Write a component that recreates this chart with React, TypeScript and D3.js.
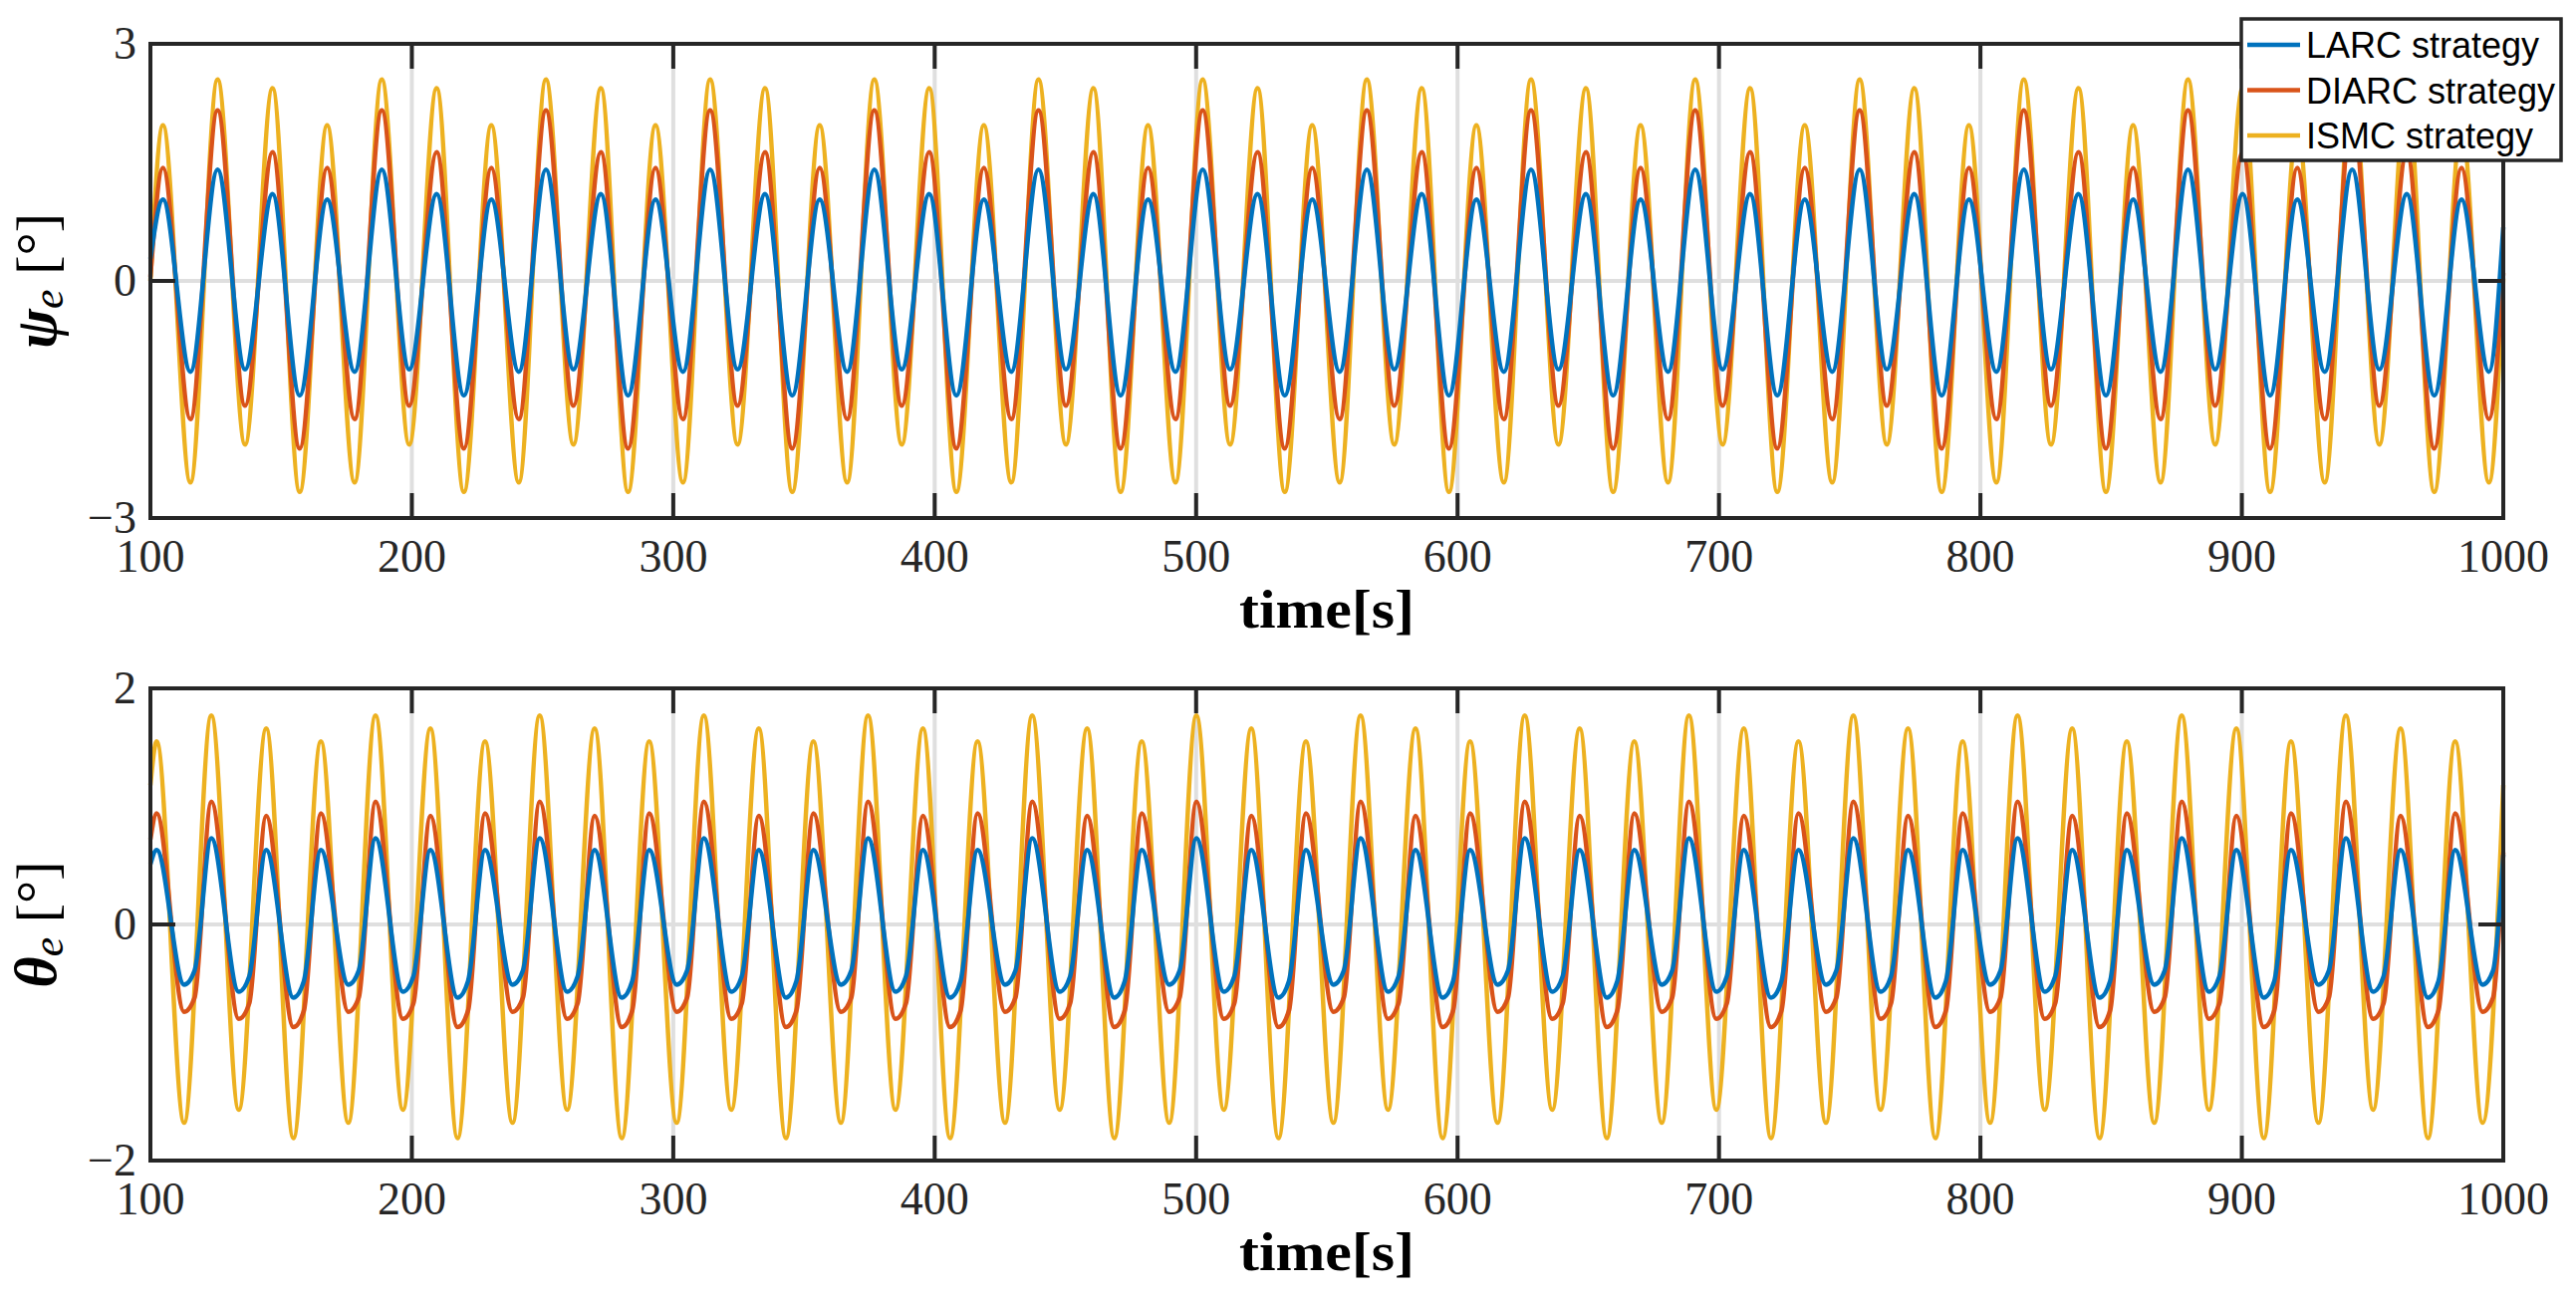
import React from 'react';
import * as d3 from 'd3';

// chart values
const seriesNames = ['LARC strategy', 'DIARC strategy', 'ISMC strategy'];
const seriesColors = ['#0072BD', '#D95319', '#EDB120'];
const xTicks = [100, 200, 300, 400, 500, 600, 700, 800, 900, 1000];
const psiTicks = [-3, 0, 3];
const thetaTicks = [-2, 0, 2];

// times of the peaks / troughs of the psi_e traces [s]
const psiTimes = [
  104.8, 115.3, 125.7, 136.2, 146.7, 157.1,
  167.6, 178.1, 188.5, 199.0, 209.5, 219.9,
  230.4, 240.9, 251.3, 261.8, 272.3, 282.7,
  293.2, 303.7, 314.1, 324.6, 335.1, 345.5,
  356.0, 366.5, 376.9, 387.4, 397.9, 408.3,
  418.8, 429.3, 439.7, 450.2, 460.7, 471.1,
  481.6, 492.1, 502.5, 513.0, 523.5, 533.9,
  544.4, 554.9, 565.3, 575.8, 586.3, 596.7,
  607.2, 617.7, 628.1, 638.6, 649.1, 659.5,
  670.0, 680.5, 690.9, 701.4, 711.9, 722.3,
  732.8, 743.3, 753.8, 764.2, 774.7, 785.2,
  795.6, 806.1, 816.6, 827.0, 837.5, 848.0,
  858.4, 868.9, 879.4, 889.8, 900.3, 910.8,
  921.2, 931.7, 942.2, 952.6, 963.1, 973.6,
  984.0, 994.5,
];

const psiLarc = [
  1.03, -1.15, 1.41, -1.12, 1.10, -1.45,
  1.03, -1.15, 1.41, -1.12, 1.10, -1.45,
  1.03, -1.15, 1.41, -1.12, 1.10, -1.45,
  1.03, -1.15, 1.41, -1.12, 1.10, -1.45,
  1.03, -1.15, 1.41, -1.12, 1.10, -1.45,
  1.03, -1.15, 1.41, -1.12, 1.10, -1.45,
  1.03, -1.15, 1.41, -1.12, 1.10, -1.45,
  1.03, -1.15, 1.41, -1.12, 1.10, -1.45,
  1.03, -1.15, 1.41, -1.12, 1.10, -1.45,
  1.03, -1.15, 1.41, -1.12, 1.10, -1.45,
  1.03, -1.15, 1.41, -1.12, 1.10, -1.45,
  1.03, -1.15, 1.41, -1.12, 1.10, -1.45,
  1.03, -1.15, 1.41, -1.12, 1.10, -1.45,
  1.03, -1.15, 1.41, -1.12, 1.10, -1.45,
  1.03, -1.15,
];

const psiDiarc = [
  1.43, -1.75, 2.16, -1.58, 1.63, -2.12,
  1.43, -1.75, 2.16, -1.58, 1.63, -2.12,
  1.43, -1.75, 2.16, -1.58, 1.63, -2.12,
  1.43, -1.75, 2.16, -1.58, 1.63, -2.12,
  1.43, -1.75, 2.16, -1.58, 1.63, -2.12,
  1.43, -1.75, 2.16, -1.58, 1.63, -2.12,
  1.43, -1.75, 2.16, -1.58, 1.63, -2.12,
  1.43, -1.75, 2.16, -1.58, 1.63, -2.12,
  1.43, -1.75, 2.16, -1.58, 1.63, -2.12,
  1.43, -1.75, 2.16, -1.58, 1.63, -2.12,
  1.43, -1.75, 2.16, -1.58, 1.63, -2.12,
  1.43, -1.75, 2.16, -1.58, 1.63, -2.12,
  1.43, -1.75, 2.16, -1.58, 1.63, -2.12,
  1.43, -1.75, 2.16, -1.58, 1.63, -2.12,
  1.43, -1.75,
];

const psiIsmc = [
  1.97, -2.55, 2.55, -2.07, 2.44, -2.67,
  1.97, -2.55, 2.55, -2.07, 2.44, -2.67,
  1.97, -2.55, 2.55, -2.07, 2.44, -2.67,
  1.97, -2.55, 2.55, -2.07, 2.44, -2.67,
  1.97, -2.55, 2.55, -2.07, 2.44, -2.67,
  1.97, -2.55, 2.55, -2.07, 2.44, -2.67,
  1.97, -2.55, 2.55, -2.07, 2.44, -2.67,
  1.97, -2.55, 2.55, -2.07, 2.44, -2.67,
  1.97, -2.55, 2.55, -2.07, 2.44, -2.67,
  1.97, -2.55, 2.55, -2.07, 2.44, -2.67,
  1.97, -2.55, 2.55, -2.07, 2.44, -2.67,
  1.97, -2.55, 2.55, -2.07, 2.44, -2.67,
  1.97, -2.55, 2.55, -2.07, 2.44, -2.67,
  1.97, -2.55, 2.55, -2.07, 2.44, -2.67,
  1.97, -2.55,
];

// value at t = 100 and t = 1000 (LARC, DIARC, ISMC)
const psiStart = [0.28, 0.05, 0.0];
const psiEnd = [0.68, 0.1, 0.03];

// times of the peaks / troughs of the theta_e traces [s]
const thetaTimes = [
  102.4, 112.9, 123.3, 133.8, 144.3, 154.7,
  165.2, 175.7, 186.1, 196.6, 207.1, 217.5,
  228.0, 238.5, 248.9, 259.4, 269.9, 280.3,
  290.8, 301.3, 311.7, 322.2, 332.7, 343.1,
  353.6, 364.1, 374.5, 385.0, 395.5, 405.9,
  416.4, 426.9, 437.3, 447.8, 458.3, 468.7,
  479.2, 489.7, 500.1, 510.6, 521.1, 531.5,
  542.0, 552.5, 562.9, 573.4, 583.9, 594.3,
  604.8, 615.3, 625.7, 636.2, 646.7, 657.1,
  667.6, 678.1, 688.5, 699.0, 709.5, 719.9,
  730.4, 740.9, 751.4, 761.8, 772.3, 782.8,
  793.2, 803.7, 814.2, 824.6, 835.1, 845.6,
  856.0, 866.5, 877.0, 887.4, 897.9, 908.4,
  918.8, 929.3, 939.8, 950.2, 960.7, 971.2,
  981.6, 992.1,
];

const thetaLarc = [
  0.63, -0.51, 0.73, -0.57, 0.63, -0.62,
  0.63, -0.51, 0.73, -0.57, 0.63, -0.62,
  0.63, -0.51, 0.73, -0.57, 0.63, -0.62,
  0.63, -0.51, 0.73, -0.57, 0.63, -0.62,
  0.63, -0.51, 0.73, -0.57, 0.63, -0.62,
  0.63, -0.51, 0.73, -0.57, 0.63, -0.62,
  0.63, -0.51, 0.73, -0.57, 0.63, -0.62,
  0.63, -0.51, 0.73, -0.57, 0.63, -0.62,
  0.63, -0.51, 0.73, -0.57, 0.63, -0.62,
  0.63, -0.51, 0.73, -0.57, 0.63, -0.62,
  0.63, -0.51, 0.73, -0.57, 0.63, -0.62,
  0.63, -0.51, 0.73, -0.57, 0.63, -0.62,
  0.63, -0.51, 0.73, -0.57, 0.63, -0.62,
  0.63, -0.51, 0.73, -0.57, 0.63, -0.62,
  0.63, -0.51,
];

const thetaDiarc = [
  0.94, -0.74, 1.04, -0.80, 0.92, -0.87,
  0.94, -0.74, 1.04, -0.80, 0.92, -0.87,
  0.94, -0.74, 1.04, -0.80, 0.92, -0.87,
  0.94, -0.74, 1.04, -0.80, 0.92, -0.87,
  0.94, -0.74, 1.04, -0.80, 0.92, -0.87,
  0.94, -0.74, 1.04, -0.80, 0.92, -0.87,
  0.94, -0.74, 1.04, -0.80, 0.92, -0.87,
  0.94, -0.74, 1.04, -0.80, 0.92, -0.87,
  0.94, -0.74, 1.04, -0.80, 0.92, -0.87,
  0.94, -0.74, 1.04, -0.80, 0.92, -0.87,
  0.94, -0.74, 1.04, -0.80, 0.92, -0.87,
  0.94, -0.74, 1.04, -0.80, 0.92, -0.87,
  0.94, -0.74, 1.04, -0.80, 0.92, -0.87,
  0.94, -0.74, 1.04, -0.80, 0.92, -0.87,
  0.94, -0.74,
];

const thetaIsmc = [
  1.55, -1.68, 1.77, -1.57, 1.66, -1.81,
  1.55, -1.68, 1.77, -1.57, 1.66, -1.81,
  1.55, -1.68, 1.77, -1.57, 1.66, -1.81,
  1.55, -1.68, 1.77, -1.57, 1.66, -1.81,
  1.55, -1.68, 1.77, -1.57, 1.66, -1.81,
  1.55, -1.68, 1.77, -1.57, 1.66, -1.81,
  1.55, -1.68, 1.77, -1.57, 1.66, -1.81,
  1.55, -1.68, 1.77, -1.57, 1.66, -1.81,
  1.55, -1.68, 1.77, -1.57, 1.66, -1.81,
  1.55, -1.68, 1.77, -1.57, 1.66, -1.81,
  1.55, -1.68, 1.77, -1.57, 1.66, -1.81,
  1.55, -1.68, 1.77, -1.57, 1.66, -1.81,
  1.55, -1.68, 1.77, -1.57, 1.66, -1.81,
  1.55, -1.68, 1.77, -1.57, 1.66, -1.81,
  1.55, -1.68,
];

// LARC / DIARC theta traces have a shoulder a few seconds after every trough
const thetaShoulderLag = 4.0;
const thetaShoulderLarc = [
  -0.39, -0.44, -0.48, -0.39, -0.44, -0.48, -0.39, -0.44, -0.48,
  -0.39, -0.44, -0.48, -0.39, -0.44, -0.48, -0.39, -0.44, -0.48,
  -0.39, -0.44, -0.48, -0.39, -0.44, -0.48, -0.39, -0.44, -0.48,
  -0.39, -0.44, -0.48, -0.39, -0.44, -0.48, -0.39, -0.44, -0.48,
  -0.39, -0.44, -0.48, -0.39, -0.44, -0.48, -0.39,
];
const thetaShoulderDiarc = [
  -0.62, -0.67, -0.73, -0.62, -0.67, -0.73, -0.62, -0.67, -0.73,
  -0.62, -0.67, -0.73, -0.62, -0.67, -0.73, -0.62, -0.67, -0.73,
  -0.62, -0.67, -0.73, -0.62, -0.67, -0.73, -0.62, -0.67, -0.73,
  -0.62, -0.67, -0.73, -0.62, -0.67, -0.73, -0.62, -0.67, -0.73,
  -0.62, -0.67, -0.73, -0.62, -0.67, -0.73, -0.62,
];

const thetaStart = [0.51, 0.72, 1.18];
const thetaEnd = [0.59, 0.61, 1.18];

type Pt = [number, number];

const buildPoints = (
  times: number[],
  values: number[],
  start: number,
  end: number,
  shoulders?: number[],
  lag?: number
): Pt[] => {
  const pts: Pt[] = [[100, start]];
  times.forEach((t, i) => pts.push([t, values[i]]));
  if (shoulders && lag) {
    let k = 0;
    times.forEach((t, i) => {
      if (values[i] < 0 && k < shoulders.length) {
        pts.push([t + lag, shoulders[k]]);
        k++;
      }
    });
  }
  pts.push([1000, end]);
  return pts.sort((a, b) => a[0] - b[0]);
};

const AXIS = '#262626';
const GRID = '#dfdfdf';
const LEFT = 151;
const RIGHT = 2513;
const TICK = 25;

interface PanelProps {
  top: number;
  bottom: number;
  yDomain: [number, number];
  yTicks: number[];
  series: Pt[][];
  symbol: string;
  legend?: boolean;
}

const fmt = (v: number) => (v < 0 ? '\u2212' + Math.abs(v) : String(v));

const Panel: React.FC<PanelProps> = ({ top, bottom, yDomain, yTicks, series, symbol, legend }) => {
  const x = d3.scaleLinear().domain([100, 1000]).range([LEFT, RIGHT]);
  const y = d3.scaleLinear().domain(yDomain).range([bottom, top]);
  const line = d3
    .line<Pt>()
    .x((d) => x(d[0]))
    .y((d) => y(d[1]))
    .curve(d3.curveMonotoneX);
  const cy = (top + bottom) / 2;
  const order = [2, 1, 0];

  return (
    <g>
      {/* grid */}
      {xTicks.slice(1, -1).map((t) => (
        <line key={'gx' + t} x1={x(t)} x2={x(t)} y1={top} y2={bottom} stroke={GRID} strokeWidth={4} />
      ))}
      {yTicks.slice(1, -1).map((t) => (
        <line key={'gy' + t} x1={LEFT} x2={RIGHT} y1={y(t)} y2={y(t)} stroke={GRID} strokeWidth={4} />
      ))}

      {/* traces */}
      {order.map((i) => (
        <path
          key={'s' + i}
          d={line(series[i]) || ''}
          fill="none"
          stroke={seriesColors[i]}
          strokeWidth={4.5}
          strokeLinejoin="round"
        />
      ))}

      {/* ticks */}
      {xTicks.map((t) => (
        <g key={'tx' + t}>
          <line x1={x(t)} x2={x(t)} y1={bottom} y2={bottom - TICK} stroke={AXIS} strokeWidth={4} />
          <line x1={x(t)} x2={x(t)} y1={top} y2={top + TICK} stroke={AXIS} strokeWidth={4} />
          <text
            x={x(t)}
            y={bottom + 54}
            textAnchor="middle"
            fontFamily="'Liberation Serif', serif"
            fontSize={46}
            fill={AXIS}
          >
            {t}
          </text>
        </g>
      ))}
      {yTicks.map((t) => (
        <g key={'ty' + t}>
          <line x1={LEFT} x2={LEFT + TICK} y1={y(t)} y2={y(t)} stroke={AXIS} strokeWidth={4} />
          <line x1={RIGHT} x2={RIGHT - TICK} y1={y(t)} y2={y(t)} stroke={AXIS} strokeWidth={4} />
          <text
            x={LEFT - 14}
            y={y(t) + 15}
            textAnchor="end"
            fontFamily="'Liberation Serif', serif"
            fontSize={46}
            fill={AXIS}
          >
            {fmt(t)}
          </text>
        </g>
      ))}

      {/* box */}
      <rect x={LEFT} y={top} width={RIGHT - LEFT} height={bottom - top} fill="none" stroke={AXIS} strokeWidth={4} />

      {/* axis labels */}
      <text
        x={(LEFT + RIGHT) / 2}
        y={bottom + 110}
        textAnchor="middle"
        fontFamily="'Liberation Serif', serif"
        fontWeight="bold"
        fontSize={54}
        textLength={176}
        lengthAdjust="spacingAndGlyphs"
        fill="#000"
      >
        time[s]
      </text>
      <text
        transform={`translate(56,${cy}) rotate(-90)`}
        textAnchor="middle"
        fontFamily="'Liberation Serif', serif"
        fill="#000"
      >
        <tspan fontWeight="bold" fontStyle="italic" fontSize={60}>
          {symbol}
        </tspan>
        <tspan fontStyle="italic" fontSize={44} dy={7}>
          e
        </tspan>
        <tspan fontSize={58} dy={-7}>
          {' [\u00b0]'}
        </tspan>
      </text>

      {legend && (
        <g>
          <rect x={2250} y={19} width={321} height={142} fill="#fff" stroke={AXIS} strokeWidth={3.5} />
          {seriesNames.map((name, i) => (
            <g key={name}>
              <line
                x1={2256}
                x2={2309}
                y1={45 + i * 45.5}
                y2={45 + i * 45.5}
                stroke={seriesColors[i]}
                strokeWidth={4.5}
              />
              <text
                x={2315}
                y={58 + i * 45.5}
                fontFamily="'Liberation Sans', Arial, sans-serif"
                fontSize={36}
                fill="#000"
              >
                {name}
              </text>
            </g>
          ))}
        </g>
      )}
    </g>
  );
};

const App: React.FC = () => {
  const psiSeries = [
    buildPoints(psiTimes, psiLarc, psiStart[0], psiEnd[0]),
    buildPoints(psiTimes, psiDiarc, psiStart[1], psiEnd[1]),
    buildPoints(psiTimes, psiIsmc, psiStart[2], psiEnd[2]),
  ];
  const thetaSeries = [
    buildPoints(thetaTimes, thetaLarc, thetaStart[0], thetaEnd[0], thetaShoulderLarc, thetaShoulderLag),
    buildPoints(thetaTimes, thetaDiarc, thetaStart[1], thetaEnd[1], thetaShoulderDiarc, thetaShoulderLag),
    buildPoints(thetaTimes, thetaIsmc, thetaStart[2], thetaEnd[2]),
  ];

  return (
    <svg
      width={2586}
      height={1308}
      style={{ position: 'absolute', left: 0, top: 0, display: 'block', background: '#fff' }}
    >
      <rect width={2586} height={1308} fill="#fff" />
      <Panel top={44} bottom={520} yDomain={[-3, 3]} yTicks={psiTicks} series={psiSeries} symbol={'\u03c8'} legend />
      <Panel top={691} bottom={1165} yDomain={[-2, 2]} yTicks={thetaTicks} series={thetaSeries} symbol={'\u03b8'} />
    </svg>
  );
};

export default App;
